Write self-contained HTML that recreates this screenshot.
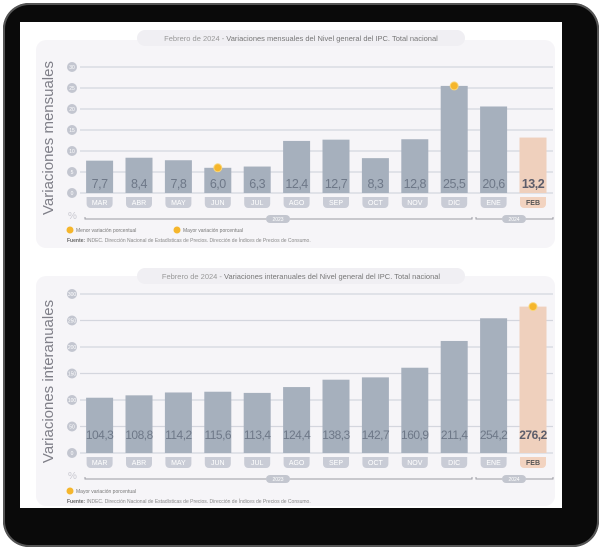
<!DOCTYPE html>
<html><head><meta charset="utf-8"><style>
html,body{margin:0;padding:0;background:#fff;}
body{width:605px;height:551px;position:relative;overflow:hidden;font-family:"Liberation Sans",sans-serif;}
#frame{position:absolute;left:3px;top:3px;width:596px;height:544px;background:#0a0a0a;border-radius:26px;box-shadow:0 0 0 2px #555 inset;}
#paper{position:absolute;left:20px;top:22px;width:542px;height:486px;background:#fff;}
svg{position:absolute;left:0;top:0;}
</style></head><body>
<div id="frame"></div>
<div id="paper"></div>
<svg id="chart" width="605" height="551"></svg>
<script>
const months = ["MAR","ABR","MAY","JUN","JUL","AGO","SEP","OCT","NOV","DIC","ENE","FEB"];
const monthlyValues = [7.7,8.4,7.8,6.0,6.3,12.4,12.7,8.3,12.8,25.5,20.6,13.2];
const monthlyLabels = ["7,7","8,4","7,8","6,0","6,3","12,4","12,7","8,3","12,8","25,5","20,6","13,2"];
const monthlyTicks = [0,5,10,15,20,25,30];
const annualValues = [104.3,108.8,114.2,115.6,113.4,124.4,138.3,142.7,160.9,211.4,254.2,276.2];
const annualLabels = ["104,3","108,8","114,2","115,6","113,4","124,4","138,3","142,7","160,9","211,4","254,2","276,2"];
const annualTicks = [0,50,100,150,200,250,300];
const monthlyMarkers = [3,9];
const annualMarkers = [11];

const NS="http://www.w3.org/2000/svg";
const svg=document.getElementById('chart');
function mk(tag,attrs,parent,text){const e=document.createElementNS(NS,tag);for(const k in attrs)e.setAttribute(k,attrs[k]);if(text!==undefined)e.textContent=text;(parent||svg).appendChild(e);return e;}

function drawChart(o){
  const g=mk('g',{});
  
  
  const panel=mk('rect',{x:36,y:o.panelTop,width:519,height:o.panelH,rx:10,fill:'#f6f5f8'},g);
  
  
  const pill=mk('rect',{x:137,y:o.titleY-8,width:328,height:16,rx:8,fill:'#f0eff3'},g);
  
  
  const t=mk('text',{x:301,y:o.titleY+3,'font-size':7.5,'text-anchor':'middle',fill:'#777'},g);
  
  
  mk('tspan',{fill:'#999'},t,o.titleA);mk('tspan',{},t,o.titleB);
  const yMax=o.ticks[o.ticks.length-1];
  const y=v=>o.y0-(v/yMax)*(o.y0-o.yTop);
  const x=i=>99.6+i*39.4;
  o.ticks.forEach(tv=>{
    const gl=mk('line',{x1:80,x2:553,y1:y(tv),y2:y(tv),stroke:'#d4d6de','stroke-width':1.3},g);
    
    
    const c=mk('circle',{cx:72,cy:y(tv),r:5,fill:'#c3c6d0'},g);
    
    
    const tl=mk('text',{x:72,y:y(tv)+2,'font-size':5,'text-anchor':'middle',fill:'#fff'},g,String(tv));
    
    
  });
  const yt=mk('text',{transform:`translate(53,${(o.y0+o.yTop)/2+8}) rotate(-90)`,'font-size':15,'text-anchor':'middle',fill:'#7f7f88'},g,o.yTitle);
  
  
  o.values.forEach((v,i)=>{
    const last=i===o.values.length-1;
    const b=mk('rect',{x:x(i)-13.5,y:y(v),width:27,height:o.y0-y(v),fill:last?'#efd0bd':'#a6b0bd'},g);
    
    
    const vl=mk('text',{x:x(i),y:o.labelY,'font-size':o.fs,'text-anchor':'middle',fill:last?'#5d5d6a':'#6e7888','font-weight':last?'bold':'normal','letter-spacing':-0.5},g,o.labels[i]);
    
    
    const mp=mk('path',{d:`M${x(i)-13},${o.y0+4}h26v7a4,4 0 0 1 -4,4h-18a4,4 0 0 1 -4,-4z`,fill:last?'#f2d3c0':'#c9ccd6'},g);
    
    
    const ml=mk('text',{x:x(i),y:o.y0+12,'font-size':7,'text-anchor':'middle',fill:last?'#555':'#fff','font-weight':last?'bold':'normal'},g,months[i]);
    
    
  });
  o.markers.forEach(i=>{
    const m=mk('circle',{cx:x(i),cy:y(o.values[i]),r:4,fill:'#f5b62c',stroke:'#f8d67a','stroke-width':1},g);
    
    
  });
  const pct=mk('text',{x:68,y:o.y0+26,'font-size':10,fill:'#c8c8d0'},g,'%');
  
  
  const yl=o.y0+26;
  [[85,472,278,'2023'],[476,553,514,'2024']].forEach(s=>{
    const l=mk('path',{d:`M${s[0]},${yl-2}v2H${s[1]}v-2`,stroke:'#9a9aa2',fill:'none','stroke-width':1},g);
    
    
    mk('rect',{x:s[2]-12,y:yl-4,width:24,height:8,rx:4,fill:'#c3c6cf'},g);
    const yt2=mk('text',{x:s[2],y:yl+2,'font-size':5,'text-anchor':'middle',fill:'#fff'},g,s[3]);
    
    
  });
  o.legend.forEach((lg,k)=>{
    const lx=70+k*107;
    mk('circle',{cx:lx,cy:o.legendY,r:3.5,fill:'#f5b62c'},g);
    const lt=mk('text',{x:lx+6,y:o.legendY+2,'font-size':5,fill:'#777'},g,lg);
    
    
  });
  const src=mk('text',{x:67,y:o.legendY+12,'font-size':5,fill:'#888'},g);
  
  
  mk('tspan',{'font-weight':'bold',fill:'#666'},src,'Fuente: ');
  mk('tspan',{},src,'INDEC. Dirección Nacional de Estadísticas de Precios. Dirección de Índices de Precios de Consumo.');
}

drawChart({name:'monthly-chart',panelTop:40,panelH:208,titleY:38,titleA:'Febrero de 2024 - ',titleB:'Variaciones mensuales del Nivel general del IPC. Total nacional',
  y0:193,yTop:67,ticks:monthlyTicks,values:monthlyValues,labels:monthlyLabels,labelY:188,fs:12.5,markers:monthlyMarkers,
  yTitle:'Variaciones mensuales',legend:['Menor variación porcentual','Mayor variación porcentual'],legendY:230});
drawChart({name:'annual-chart',panelTop:276,panelH:230,titleY:276,titleA:'Febrero de 2024 - ',titleB:'Variaciones interanuales del Nivel general del IPC. Total nacional',
  y0:453,yTop:294,ticks:annualTicks,values:annualValues,labels:annualLabels,labelY:439,fs:12,markers:annualMarkers,
  yTitle:'Variaciones interanuales',legend:['Mayor variación porcentual'],legendY:491});
</script>
</body></html>
